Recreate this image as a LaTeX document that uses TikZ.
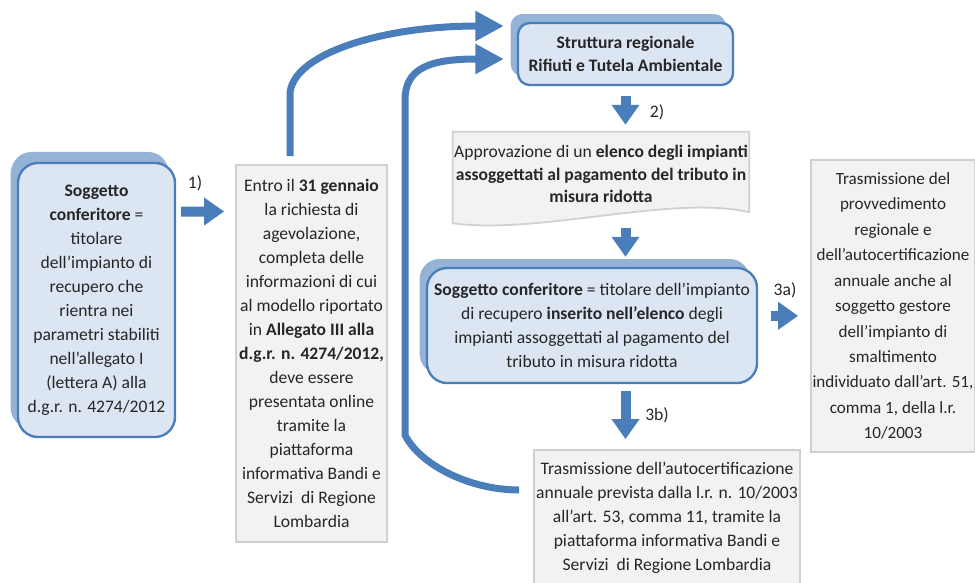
\documentclass[tikz,border=0pt]{standalone}
\usepackage{fontspec}
\setmainfont{Carlito}
\usetikzlibrary{arrows.meta,shadows,calc,backgrounds}
\definecolor{arrowblue}{RGB}{74,126,187}
\definecolor{boxfill}{RGB}{220,230,242}
\definecolor{shadowblue}{RGB}{149,179,215}
\definecolor{greyfill}{RGB}{242,242,242}
\definecolor{greyline}{RGB}{208,208,208}
\definecolor{txt}{RGB}{38,38,38}

\begin{document}
\begin{tikzpicture}[x=0.03cm, y=-0.03cm,
  every node/.style={font=\fontsize{15}{20.5}\selectfont, text=txt, align=center, inner sep=1pt},
  bluebox/.style={draw=arrowblue, line width=2pt, fill=boxfill, rounded corners=0.6cm,
    general shadow={fill=shadowblue, shadow xshift=-0.22cm, shadow yshift=0.27cm}},
  greybox/.style={draw=greyline, line width=1.5pt, fill=greyfill},
  blockarrow/.style={draw=arrowblue, line width=0.3cm, -{Triangle[width=0.8cm,length=0.6cm]}},
  bentarrow/.style={draw=arrowblue, line width=0.21cm, -{Triangle[width=0.85cm,length=0.85cm]}}
]
\useasboundingbox (0,0) rectangle (975,582);

% boxes
\node[bluebox, minimum width=4.71cm, minimum height=8.22cm, general shadow={fill=shadowblue, shadow xshift=-0.2cm, shadow yshift=0.33cm}] (sogg1) at (96.5,300) {\textbf{Soggetto}\\ \textbf{conferitore} =\\ titolare\\ dell’impianto di\\ recupero che\\ rientra nei\\ parametri stabiliti\\ nell’allegato I\\ (lettera A) alla\\ d.g.r. n. 4274/2012};
\node[greybox, minimum width=4.53cm, minimum height=11.31cm] (entro) at (311.5,353.5) {Entro il \textbf{31 gennaio}\\ la richiesta di\\ agevolazione,\\ completa delle\\ informazioni di cui\\ al modello riportato\\ in \textbf{Allegato III alla}\\ \textbf{d.g.r. n. 4274/2012,}\\ deve essere\\ presentata online\\ tramite la\\ piattaforma\\ informativa Bandi e\\ Servizi\ \ di Regione\\ Lombardia};
\node[bluebox, rounded corners=0.35cm, minimum width=6.45cm, minimum height=1.86cm, font=\fontsize{15}{19.5}\selectfont] (struttura) at (625.5,54) {\textbf{Struttura regionale}\\ \textbf{Rifiuti e Tutela Ambientale}};
\node[minimum width=7.56cm, minimum height=2.52cm, font=\fontsize{15}{19.5}\selectfont] (elenco) at (601,174) {Approvazione di un \textbf{elenco degli impianti}\\ \textbf{assoggettati al pagamento del tributo in}\\ \textbf{misura ridotta}};
\node[bluebox, minimum width=9.9cm, minimum height=3.45cm] (sogg2) at (592,325.5) {\textbf{Soggetto conferitore} = titolare dell’impianto\\ di recupero \textbf{inserito nell’elenco} degli\\ impianti assoggettati al pagamento del\\ tributo in misura ridotta};
\node[greybox, minimum width=4.92cm, minimum height=8.76cm, font=\fontsize{14.6}{21.7}\selectfont] (trasm) at (893,306) {Trasmissione del\\ provvedimento\\ regionale e\\ dell’autocertificazione\\ annuale anche al\\ soggetto gestore\\ dell’impianto di\\ smaltimento\\ individuato dall’art. 51,\\ comma 1, della l.r.\\ 10/2003};
\node[greybox, minimum width=7.98cm, minimum height=4.08cm] (autocert) at (667,518) {Trasmissione dell’autocertificazione\\ annuale prevista dalla l.r. n. 10/2003\\ all’art. 53, comma 11, tramite la\\ piattaforma informativa Bandi e\\ Servizi\ \ di Regione Lombardia};

\begin{scope}[on background layer]
\draw[greybox] (elenco.north west) -- (elenco.north east) -- ([yshift=0.12cm]elenco.south east) .. controls +(-77,-18) and +(85,12) .. ([yshift=-0.21cm]elenco.south west) -- cycle;
\end{scope}

% labels
\node (lab1) at (195,183) {1)};
\node (lab2) at (657,112) {2)};
\node (lab3a) at (785,290) {3a)};
\node (lab3b) at (657,415) {3b)};

% arrows
\draw[blockarrow, shorten <=0.15cm, shorten >=0.33cm] ($(sogg1.north east)!0.18!(sogg1.south east)$) -- ($(entro.north west)!0.125!(entro.south west)$);
\draw[blockarrow, shorten <=0.3cm, shorten >=0.21cm] (struttura.south) -- (struttura.south |- elenco.north);
\draw[blockarrow, shorten <=0.36cm, shorten >=0.3cm] (struttura.south |- elenco.south) -- (struttura.south |- sogg2.north);
\coordinate (a3) at ([yshift=0.29cm]sogg2.east);
\draw[blockarrow, shorten <=0.39cm, shorten >=0.36cm] (a3) -- (a3 -| trasm.west);
\draw[blockarrow, shorten <=0.21cm, shorten >=0.3cm] (struttura.south |- sogg2.south) -- (struttura.south |- autocert.north);

\draw[bentarrow, shorten <=0.24cm, shorten >=0.39cm] ([xshift=-0.645cm]entro.north) -- (290,95) .. controls (290,55) and (380,26) .. ([yshift=0.84cm]struttura.west);
\draw[bentarrow, shorten <=0.42cm, shorten >=0.39cm] ([yshift=0.84cm]autocert.west) .. controls (470,490) and (420,465) .. (405,435) -- (405,100) .. controls (405,68) and (430,59) .. ([yshift=-0.15cm]struttura.west);
\end{tikzpicture}
\end{document}
